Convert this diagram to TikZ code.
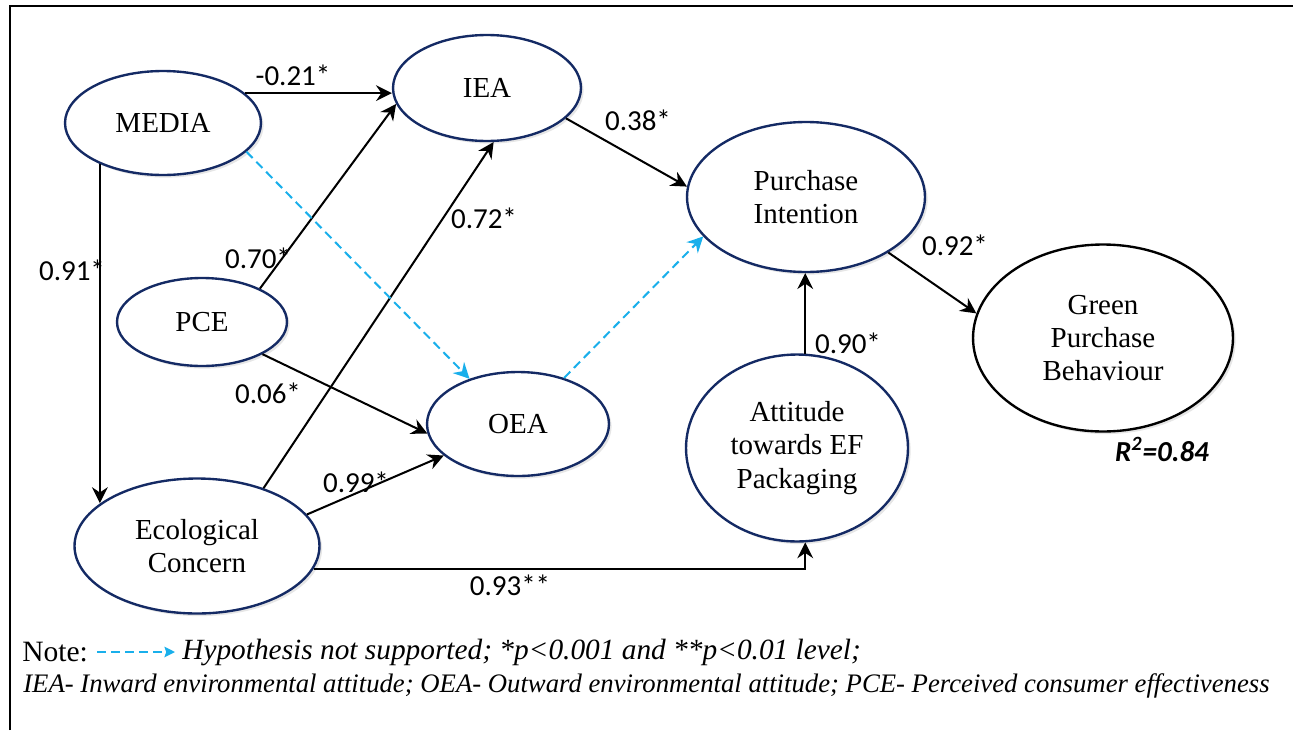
\documentclass[tikz,border=0pt]{standalone}
\usepackage{fontspec}
\setmainfont{Liberation Serif}
\newfontfamily\calib{Carlito}
\usepackage{tikz}
\usetikzlibrary{shapes.geometric,arrows.meta,shadows}
\definecolor{navy}{RGB}{20,42,100}
\definecolor{skyblue}{RGB}{25,175,235}

\begin{document}
\begin{tikzpicture}[x=0.02cm,y=-0.02cm]
	\path [use as bounding box] (0,0) rectangle (1293,730);
	\tikzstyle{latent} = [ellipse, draw=navy, line width=1.35pt, fill=white, inner sep=0pt, align=center, font=\fontsize{16.5}{19}\selectfont, drop shadow={opacity=0.2, shadow xshift=1.5pt, shadow yshift=-1.5pt}]
	\tikzstyle{est} = [-{Stealth[length=9pt,width=9pt,inset=3pt]}, line width=1.15pt]
	\tikzstyle{nosup} = [est, skyblue, dash pattern=on 5pt off 3pt]
	\tikzstyle{coef} = [font=\calib\fontsize{16.5}{18}\selectfont, inner sep=0pt]
	\draw[line width=1.5pt] (10,730) -- (10,6) -- (1293,6);
	\node[latent, minimum width=3.92cm, minimum height=2.08cm] (media) at (163,123) {MEDIA};
	\node[latent, minimum width=3.76cm, minimum height=2.12cm] (iea) at (487,88) {IEA};
	\node[latent, minimum width=4.76cm, minimum height=3cm] (pi) at (806,197) {Purchase\\Intention};
	\node[latent, minimum width=3.4cm, minimum height=1.76cm] (pce) at (202,322) {PCE};
	\node[latent, minimum width=3.64cm, minimum height=2.08cm] (oea) at (518,424) {OEA};
	\node[latent, minimum width=4.9cm, minimum height=2.7cm] (eco) at (197,546) {Ecological\\Concern};
	\node[latent, minimum width=4.44cm, minimum height=3.74cm] (att) at (797,448) {Attitude\\towards EF\\Packaging};
	\node[latent, draw=black, minimum width=5.2cm, minimum height=3.74cm] (gpb) at (1103,338) {Green\\Purchase\\Behaviour};
	\draw[est] (media.20) -- (media.20 -| iea.west);
	\draw[est] (media.213) -- (media.213 |- eco.156);
	\draw[est] (pce.30) -- (iea.190);
	\draw[est] (eco.41) -- (iea.277);
	\draw[nosup] (media.-19) -- (oea.137);
	\draw[est] (pce.-28) -- (oea.186);
	\draw[est] (eco.16) -- (oea.203);
	\draw[est] (eco.-11) -| (att.275);
	\draw[est] (iea.-21) -- (pi.175);
	\draw[nosup] (oea.45) -- (pi.201);
	\draw[est] (att.85) -- (att.85 |- pi.south);
	\draw[est] (pi.-34) -- (gpb.169);
	\node[coef] (c1) at (293,75) {-0.21*};
	\node[coef] (c2) at (72,270) {0.91*};
	\node[coef] (c3) at (258,258) {0.70*};
	\node[coef] (c4) at (484,218) {0.72*};
	\node[coef] (c5) at (638,120) {0.38*};
	\node[coef] (c6) at (268,393) {0.06*};
	\node[coef] (c7) at (356,482) {0.99*};
	\node[coef] (c8) at (510,585) {0.93**};
	\node[coef] (c9) at (848,343) {0.90*};
	\node[coef] (c10) at (955,245) {0.92*};
	\node[coef, font=\calib\bfseries\itshape\fontsize{16.5}{18}\selectfont] (r2) at (1162,449) {R\textsuperscript{2}=0.84};
	\node[anchor=west, inner sep=0pt, font=\fontsize{16.8}{18}\selectfont] (note) at (22,652) {Note:};
	\coordinate (la) at (97,652);
	\coordinate (lb) at (175,652);
	\draw[nosup, -{Stealth[length=6pt,width=6pt,inset=1pt]}] (la) -- (lb);
	\node[anchor=west, inner sep=0pt, font=\itshape\fontsize{16.7}{18}\selectfont] (hyp) at (182,652) {Hypothesis not supported; *p<0.001 and **p<0.01 level;};
	\node[anchor=west, inner sep=0pt, font=\itshape\fontsize{15.2}{17}\selectfont] (abbr) at (23,686) {IEA- Inward environmental attitude; OEA- Outward environmental attitude; PCE- Perceived consumer effectiveness};
\end{tikzpicture}
\end{document}
